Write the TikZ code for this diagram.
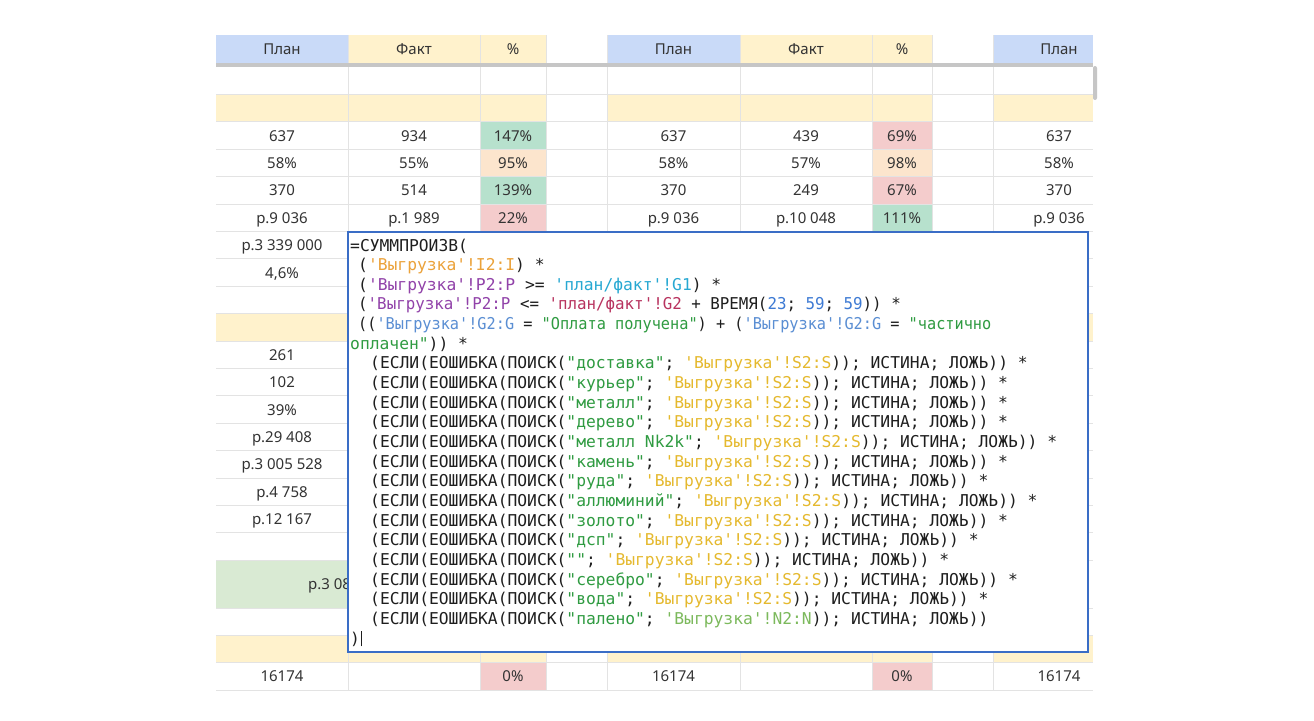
\documentclass[tikz,border=0pt]{standalone}
\usepackage{fontspec}
\usepackage{graphicx}
\setmainfont{Noto Sans}
\setmonofont{DejaVu Sans Mono}
\frenchspacing
\definecolor{hdrblue}{HTML}{C9DAF8}
\definecolor{yel}{HTML}{FFF2CC}
\definecolor{pgreen}{HTML}{B7E1CD}
\definecolor{pred}{HTML}{F4CCCC}
\definecolor{porange}{HTML}{FCE5CD}
\definecolor{mgreen}{HTML}{D9EAD3}
\definecolor{gridc}{HTML}{E3E3E3}
\definecolor{bandc}{HTML}{C6C6C6}
\definecolor{celltext}{HTML}{333333}
\definecolor{boxblue}{HTML}{3A6DC6}
\definecolor{codeblack}{HTML}{1E1E1E}
\definecolor{cOrange}{HTML}{EBA23A}
\definecolor{cPurple}{HTML}{9142A9}
\definecolor{cCyan}{HTML}{27A8D2}
\definecolor{cCrimson}{HTML}{B8335F}
\definecolor{cBlue}{HTML}{3D7AD4}
\definecolor{cSteel}{HTML}{5A8ED3}
\definecolor{cGreen}{HTML}{2F9B41}
\definecolor{cGold}{HTML}{E5B92E}
\definecolor{cLime}{HTML}{7CB95C}
\newcommand\kOr[1]{\textcolor{cOrange}{#1}}
\newcommand\kPu[1]{\textcolor{cPurple}{#1}}
\newcommand\kCy[1]{\textcolor{cCyan}{#1}}
\newcommand\kCr[1]{\textcolor{cCrimson}{#1}}
\newcommand\kBl[1]{\textcolor{cBlue}{#1}}
\newcommand\kSt[1]{\textcolor{cSteel}{#1}}
\newcommand\kGr[1]{\textcolor{cGreen}{#1}}
\newcommand\kGo[1]{\textcolor{cGold}{#1}}
\newcommand\kLi[1]{\textcolor{cLime}{#1}}
\newcommand\kIf[1]{(ЕСЛИ(ЕОШИБКА(ПОИСК(\kGr{"#1"}; \kGo{'Выгрузка'!S2:S})); ИСТИНА; ЛОЖЬ)) *}
\tikzset{
  cell/.style={anchor=base, inner sep=0pt, text=celltext, font=\fontsize{15}{17}\selectfont},
  codeline/.style={anchor=base west, inner sep=0pt, text=codeblack, font=\ttfamily\fontsize{16.3}{19.65}\selectfont},
  gridline/.style={draw=gridc, line width=0.8pt},
}
\begin{document}
\begin{tikzpicture}[x=1pt,y=-1pt]
\fill[white] (0,0) rectangle (1314,720);
\useasboundingbox (0,0) rectangle (1314,720);
% header
\fill[hdrblue] (216,35) rectangle (348,63);
\fill[yel] (348,35) rectangle (546,63);
\fill[hdrblue] (607,35) rectangle (740,63);
\fill[yel] (740,35) rectangle (932,63);
\fill[hdrblue] (993,35) rectangle (1093,63);
\fill[bandc] (216,63) rectangle (1093,67);
% yellow rows
\foreach \ya/\yb in {94.4/121.8, 313.6/341, 635/662.5}{
  \fill[yel] (216,\ya) rectangle (546,\yb);
  \fill[yel] (607,\ya) rectangle (932,\yb);
  \fill[yel] (993,\ya) rectangle (1093,\yb);
}
% merged green row
\fill[mgreen] (216,560.2) rectangle (546,608);
% percent cells
\fill[pgreen] (480,121.8) rectangle (546,149.2);
\fill[porange] (480,149.2) rectangle (546,176.6);
\fill[pgreen] (480,176.6) rectangle (546,204);
\fill[pred] (480,204) rectangle (546,231.4);
\fill[pred] (872,121.8) rectangle (932,149.2);
\fill[porange] (872,149.2) rectangle (932,176.6);
\fill[pred] (872,176.6) rectangle (932,204);
\fill[pgreen] (872,204) rectangle (932,231.4);
\fill[pred] (480,662.5) rectangle (546,690);
\fill[pred] (872,662.5) rectangle (932,690);
% grid
\foreach \yy in {94.4,121.8,149.2,176.6,204,231.4,258.8,286.2,313.6,341,368.4,395.8,423.2,450.6,478,505.4,532.8,560.2,608,635,662.5,690}{
  \draw[gridline] (216,\yy) -- (1093,\yy);
}
\foreach \xx in {348,480,546,607,740,872,932,993}{
  \draw[gridline] (\xx,35) -- (\xx,63);
  \draw[gridline] (\xx,67) -- (\xx,690);
}
\fill[bandc, rounded corners=2pt] (1093,66) rectangle (1097,100);
% header texts
\node[cell] (h1) at (282,54.5) {План};
\node[cell] (h2) at (414,54.5) {Факт};
\node[cell] (h3) at (513,54.5) {\%};
\node[cell] (h5) at (673.5,54.5) {План};
\node[cell] (h6) at (806,54.5) {Факт};
\node[cell] (h7) at (902,54.5) {\%};
\node[cell] (h9) at (1059,54.5) {План};
% data rows
\node[cell] (a1) at (282,141) {637};
\node[cell] (a2) at (414,141) {934};
\node[cell] (a3) at (513,141) {147\%};
\node[cell] (a5) at (673.5,141) {637};
\node[cell] (a6) at (806,141) {439};
\node[cell] (a7) at (902,141) {69\%};
\node[cell] (a9) at (1059,141) {637};
\node[cell] (b1) at (282,168.4) {58\%};
\node[cell] (b2) at (414,168.4) {55\%};
\node[cell] (b3) at (513,168.4) {95\%};
\node[cell] (b5) at (673.5,168.4) {58\%};
\node[cell] (b6) at (806,168.4) {57\%};
\node[cell] (b7) at (902,168.4) {98\%};
\node[cell] (b9) at (1059,168.4) {58\%};
\node[cell] (c1) at (282,195.8) {370};
\node[cell] (c2) at (414,195.8) {514};
\node[cell] (c3) at (513,195.8) {139\%};
\node[cell] (c5) at (673.5,195.8) {370};
\node[cell] (c6) at (806,195.8) {249};
\node[cell] (c7) at (902,195.8) {67\%};
\node[cell] (c9) at (1059,195.8) {370};
\node[cell] (d1) at (282,223.2) {р.9 036};
\node[cell] (d2) at (414,223.2) {р.1 989};
\node[cell] (d3) at (513,223.2) {22\%};
\node[cell] (d5) at (673.5,223.2) {р.9 036};
\node[cell] (d6) at (806,223.2) {р.10 048};
\node[cell] (d7) at (902,223.2) {111\%};
\node[cell] (d9) at (1059,223.2) {р.9 036};
% first column under the formula
\node[cell] (e1) at (282,250.6) {р.3 339 000};
\node[cell] (f1) at (282,278) {4,6\%};
\node[cell] (g1) at (282,360.2) {261};
\node[cell] (i1) at (282,387.6) {102};
\node[cell] (j1) at (282,415) {39\%};
\node[cell] (k1) at (282,442.4) {р.29 408};
\node[cell] (m1) at (282,469.8) {р.3 005 528};
\node[cell] (n1) at (282,497.2) {р.4 758};
\node[cell] (o1) at (282,524.6) {р.12 167};
\node[cell, anchor=base west] (gm) at (308,589.5) {р.3 08};
% last row
\node[cell] (z1) at (282,681.5) {16174};
\node[cell] (z3) at (513,681.5) {0\%};
\node[cell] (z5) at (673.5,681.5) {16174};
\node[cell] (z7) at (902,681.5) {0\%};
\node[cell] (z9) at (1059,681.5) {16174};
% formula box
\node[draw=boxblue, line width=2pt, fill=white, inner sep=0pt, outer sep=0pt,
      minimum width=740pt, minimum height=420pt, anchor=north west] (fbox) at (348,232) {};
\node[codeline] (l0) at (350,251) {=СУММПРОИЗВ(};
\node[codeline] (l1) at (358,270.65) {(\kOr{'Выгрузка'!I2:I}) *};
\node[codeline] (l2) at (358,290.3) {(\kPu{'Выгрузка'!P2:P} >= \kCy{'план/факт'!G1}) *};
\node[codeline] (l3) at (358,309.95) {\scalebox{0.97}[1]{(\kPu{'Выгрузка'!P2:P} <= \kCr{'план/факт'!G2} + ВРЕМЯ(\kBl{23}; \kBl{59}; \kBl{59})) *}};
\node[codeline] (l4) at (358,329.6) {\scalebox{0.935}[1]{((\kSt{'Выгрузка'!G2:G} = \kGr{"Оплата получена"}) + (\kSt{'Выгрузка'!G2:G} = \kGr{"частично}}};
\node[codeline] (l5) at (350,349.25) {\kGr{оплачен"})) *};
\node[codeline] (l6) at (370,368.9) {\kIf{доставка}};
\node[codeline] (l7) at (370,388.55) {\kIf{курьер}};
\node[codeline] (l8) at (370,408.2) {\kIf{металл}};
\node[codeline] (l9) at (370,427.85) {\kIf{дерево}};
\node[codeline] (l10) at (370,447.5) {\kIf{металл Nk2k}};
\node[codeline] (l11) at (370,467.15) {\kIf{камень}};
\node[codeline] (l12) at (370,486.8) {\kIf{руда}};
\node[codeline] (l13) at (370,506.45) {\kIf{аллюминий}};
\node[codeline] (l14) at (370,526.1) {\kIf{золото}};
\node[codeline] (l15) at (370,545.75) {\kIf{дсп}};
\node[codeline] (l16) at (370,565.4) {\kIf{}};
\node[codeline] (l17) at (370,585.05) {\kIf{серебро}};
\node[codeline] (l18) at (370,604.7) {\kIf{вода}};
\node[codeline] (l19) at (370,624.35) {(ЕСЛИ(ЕОШИБКА(ПОИСК(\kGr{"палено"}; \kLi{'Выгрузка'!N2:N})); ИСТИНА; ЛОЖЬ))};
\node[codeline] (l20) at (350,644) {)};
\draw[codeblack, line width=1.3pt] ([xshift=1.5pt]l20.south east) -- ([xshift=1.5pt]l20.north east);
\end{tikzpicture}
\end{document}
